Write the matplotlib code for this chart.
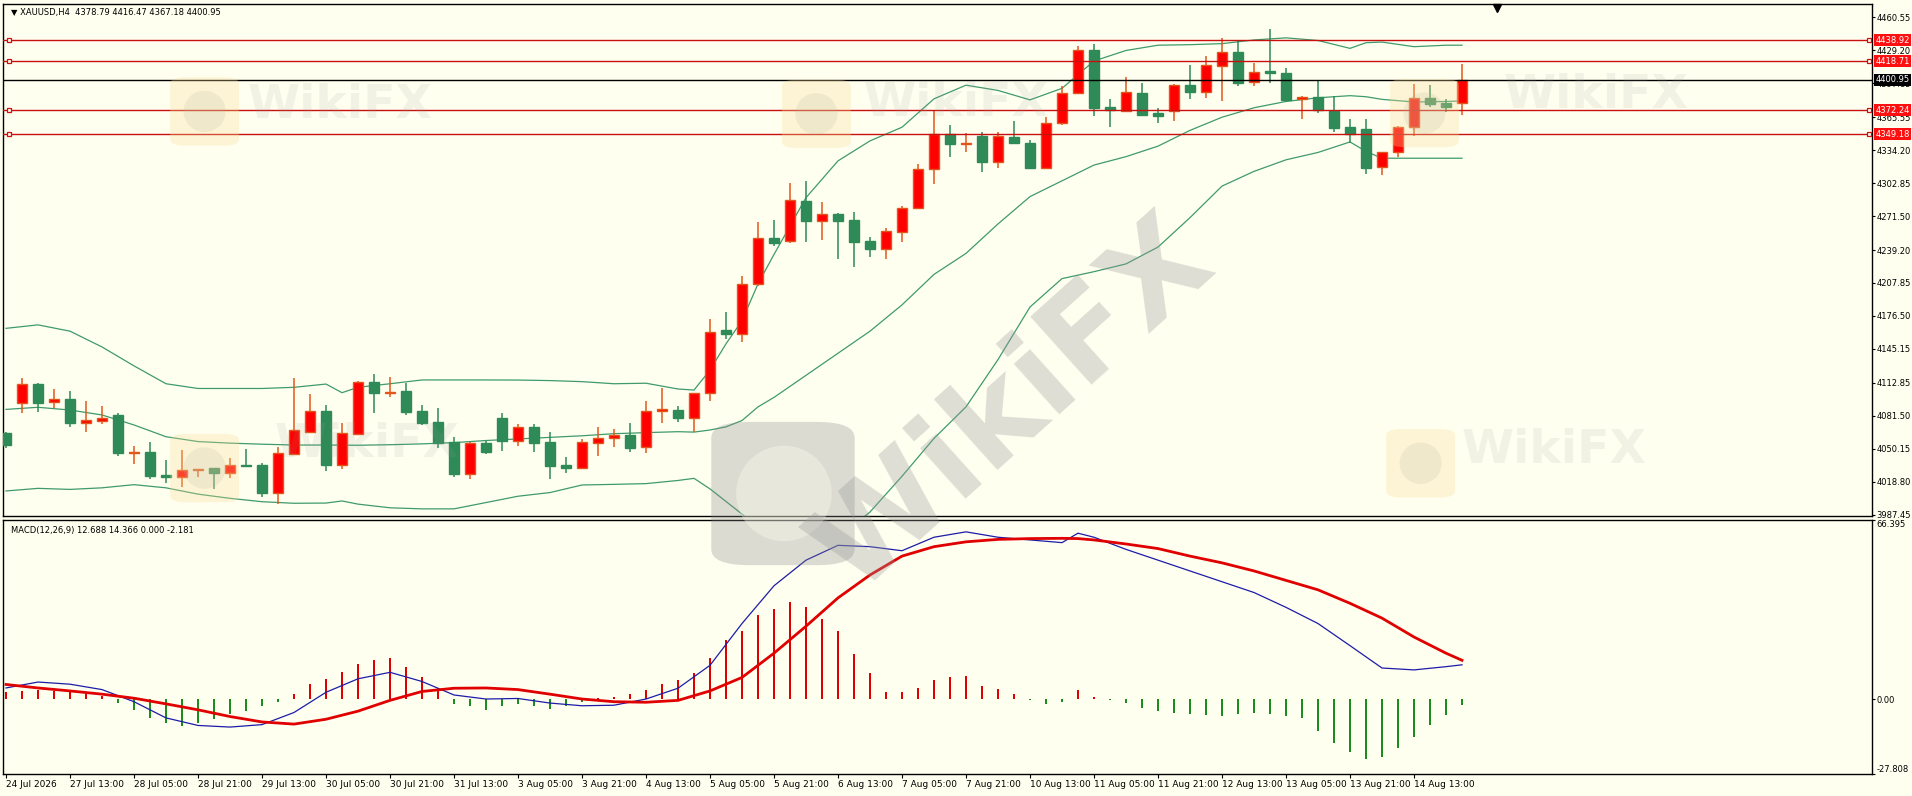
import matplotlib
matplotlib.use("Agg")
import matplotlib.pyplot as plt
import matplotlib.transforms as mtransforms
from matplotlib.patches import FancyBboxPatch, Ellipse
import numpy as np

# H4 bars, oldest first
opens = [4065.4, 4093.4, 4111.7, 4094.3, 4097.5, 4075.0, 4076.9, 4082.3, 4046.5, 4046.8,
         4025.2, 4023.6, 4029.6, 4031.5, 4027.4, 4035.0, 4034.7, 4008.4, 4045.2, 4066.4,
         4086.1, 4035.0, 4064.2, 4113.6, 4103.5, 4105.1, 4086.1, 4075.6, 4056.3, 4026.5,
         4055.9, 4079.4, 4057.9, 4070.9, 4056.3, 4034.7, 4032.2, 4055.3, 4060.1, 4063.2,
         4051.5, 4086.1, 4087.0, 4079.1, 4102.9, 4162.8, 4159.0, 4206.6, 4250.3, 4248.1,
         4285.8, 4267.1, 4273.5, 4267.8, 4247.5, 4240.5, 4256.6, 4278.8, 4316.3, 4349.2,
         4340.0, 4347.6, 4322.6, 4346.4, 4340.7, 4317.5, 4359.7, 4388.9, 4429.4, 4374.9,
         4371.7, 4388.5, 4369.2, 4371.7, 4396.2, 4389.8, 4414.5, 4427.2, 4398.7, 4409.5,
         4407.2, 4382.5, 4384.4, 4371.7, 4355.9, 4354.0, 4317.8, 4332.7, 4356.5, 4383.5,
         4378.7, 4378.79]
highs = [4066.5, 4117.1, 4112.7, 4107.0, 4105.1, 4095.6, 4090.8, 4083.9, 4052.8, 4056.3,
         4039.5, 4049.0, 4031.2, 4031.8, 4041.4, 4049.6, 4036.9, 4052.1, 4117.1, 4101.9,
         4091.5, 4074.3, 4114.9, 4121.3, 4118.1, 4112.4, 4091.5, 4088.6, 4061.6, 4056.3,
         4057.9, 4083.9, 4073.7, 4073.7, 4065.8, 4042.0, 4059.1, 4071.2, 4068.9, 4074.3,
         4095.6, 4107.6, 4090.8, 4103.5, 4173.3, 4179.9, 4214.5, 4265.5, 4267.8, 4302.9,
         4304.8, 4284.9, 4274.1, 4275.0, 4251.9, 4259.8, 4281.1, 4320.7, 4371.7, 4358.1,
         4350.2, 4351.8, 4351.8, 4361.9, 4343.9, 4365.4, 4395.2, 4433.2, 4434.8, 4382.8,
         4403.5, 4398.4, 4374.0, 4396.8, 4415.2, 4423.7, 4440.5, 4438.3, 4417.4, 4449.1,
         4412.6, 4385.7, 4400.9, 4385.7, 4363.5, 4363.5, 4332.9, 4356.8, 4396.8, 4396.2,
         4382.8, 4416.47]
lows = [4050.5, 4084.5, 4085.4, 4089.2, 4071.2, 4066.4, 4073.7, 4043.6, 4035.7, 4021.1,
        4017.9, 4013.5, 4023.0, 4011.6, 4022.0, 4033.1, 4004.0, 3997.6, 4044.2, 4065.5,
        4029.3, 4030.6, 4063.2, 4083.9, 4099.7, 4082.3, 4072.8, 4051.2, 4023.6, 4021.7,
        4045.2, 4048.3, 4053.1, 4047.4, 4021.1, 4027.4, 4031.2, 4043.6, 4052.1, 4047.4,
        4046.4, 4075.0, 4075.9, 4066.4, 4095.9, 4154.2, 4151.4, 4205.3, 4243.3, 4245.5,
        4247.1, 4248.7, 4231.0, 4223.4, 4232.9, 4230.3, 4247.1, 4278.0, 4301.7, 4327.4,
        4332.1, 4313.1, 4317.5, 4339.7, 4316.9, 4317.0, 4358.5, 4388.2, 4366.7, 4356.5,
        4370.8, 4367.5, 4359.7, 4362.2, 4382.8, 4384.1, 4381.3, 4395.2, 4395.5, 4397.7,
        4379.7, 4363.5, 4369.8, 4351.1, 4341.3, 4311.5, 4310.5, 4327.4, 4347.9, 4375.6,
        4370.8, 4367.18]
closes = [4053.7, 4111.7, 4094.0, 4097.5, 4075.0, 4077.5, 4079.4, 4045.8, 4046.9, 4024.6,
          4023.6, 4029.6, 4030.9, 4027.4, 4034.7, 4034.0, 4008.4, 4045.8, 4068.0, 4086.1,
          4035.0, 4064.8, 4113.6, 4103.5, 4104.0, 4085.4, 4075.0, 4055.9, 4026.5, 4055.3,
          4047.4, 4057.9, 4070.5, 4055.9, 4034.1, 4032.2, 4056.3, 4060.1, 4063.6, 4051.2,
          4086.1, 4088.0, 4079.1, 4102.9, 4161.5, 4159.0, 4206.6, 4250.3, 4246.2, 4286.8,
          4267.1, 4273.1, 4267.1, 4247.1, 4240.5, 4257.3, 4278.8, 4316.3, 4349.2, 4339.7,
          4340.8, 4322.6, 4347.6, 4340.7, 4317.5, 4359.7, 4388.2, 4429.4, 4374.6, 4372.4,
          4389.5, 4367.9, 4367.0, 4396.2, 4389.8, 4415.2, 4427.2, 4398.4, 4408.2, 4407.9,
          4381.9, 4384.4, 4372.4, 4355.6, 4349.6, 4317.5, 4332.7, 4356.5, 4384.1, 4377.8,
          4375.6, 4400.95]

# Bollinger bands
bb_bars = [0, 2, 4, 6, 8, 10, 12, 14, 16, 18, 20, 21, 22, 24, 26, 28, 30, 32, 34, 36,
           38, 40, 42, 43, 44, 45, 46, 47, 48, 50, 52, 54, 56, 58, 60, 62, 64, 66, 68, 70,
           72, 74, 76, 78, 80, 82, 84, 85, 86, 88, 90, 91]
bb_upper = [4164.7, 4168, 4162, 4147, 4129, 4112, 4107.5, 4107.5, 4107.5, 4108.6,
            4111.7, 4103.5, 4108.6, 4112, 4115.6, 4115.6, 4115.6, 4115.5, 4115, 4114,
            4112, 4112.5, 4107, 4106, 4125, 4150, 4172, 4207, 4235, 4289,
            4324, 4343, 4356, 4383, 4396, 4391, 4382, 4393, 4419, 4429,
            4434, 4434.5, 4435.5, 4439, 4441, 4438.5, 4431, 4436.4, 4437, 4432.6,
            4434, 4434]
bb_mid = [4087.6, 4089.6, 4087, 4082.3, 4072.8, 4061.6, 4057, 4055.5, 4054.5, 4053.7,
          4053.7, 4053.6, 4053.5, 4054, 4054.8, 4056, 4058, 4059.5, 4061, 4062.5,
          4064.5, 4065.5, 4066.4, 4066, 4068, 4071, 4077, 4090, 4099, 4120,
          4141, 4162, 4187, 4216, 4236, 4264, 4290, 4305, 4320, 4328,
          4338, 4353, 4365.5, 4374.5, 4380.5, 4384, 4386, 4385, 4382.5, 4380,
          4380.5, 4381]
bb_lower = [4010, 4012.5, 4011.5, 4013, 4016, 4013, 4007, 4003, 3999.8, 3998.3,
            3998.5, 4000.5, 3997.5, 3994, 3993, 3993, 3999, 4005, 4008.5, 4015.7,
            4016.3, 4017, 4020, 4022, 4012, 4000, 3988, 3975, 3962, 3955,
            3965, 3990, 4024, 4060, 4090, 4135, 4185, 4212, 4218.6, 4226,
            4242, 4270, 4300, 4314, 4325, 4332, 4342, 4333, 4326.5, 4326.5,
            4326.5, 4326.5]

# MACD(12,26,9)
macd_hist = [2.5, 3.0, 3.5, 3.0, 2.5, 2.0, 1.0, -1.5, -4.0, -7.2,
             -9.0, -9.9, -9.0, -7.5, -5.5, -4.5, -2.7, -1.0, 1.8, 5.4,
             7.6, 9.9, 13.0, 14.4, 15.3, 11.7, 8.1, 4.0, -1.8, -2.7,
             -4.0, -2.7, -1.8, -2.7, -3.6, -2.7, -1.0, 0.5, 0.9, 1.8,
             3.2, 5.4, 7.2, 9.5, 15.3, 22.0, 25.2, 31.1, 33.3, 36.0,
             34.2, 29.7, 25.2, 16.7, 9.5, 2.7, 2.7, 4.0, 7.2, 8.1,
             8.6, 5.0, 3.6, 1.8, -0.5, -1.8, -1.0, 3.2, 0.9, -0.5,
             -1.5, -3.2, -4.5, -5.0, -5.4, -5.9, -6.3, -5.4, -5.0, -5.4,
             -6.3, -7.2, -11.7, -16.2, -19.8, -22.1, -21.6, -18.0, -14.0, -9.5,
             -5.9, -2.181]
macd_bars = [0, 2, 4, 6, 8, 10, 12, 14, 16, 18, 20, 22, 24, 26, 28, 30, 32, 34, 36, 38,
             40, 42, 44, 46, 48, 50, 52, 54, 56, 58, 60, 62, 64, 66, 67, 68, 70, 72, 74, 76,
             78, 80, 82, 84, 86, 88, 90, 91]
macd_main = [4.1, 6.3, 5.5, 3.5, -1.0, -7.0, -9.8, -10.4, -9.5, -5.0,
             2.5, 7.5, 9.9, 6.5, 1.5, 0.0, 0.2, -1.5, -2.5, -2.3,
             0.0, 4.0, 12.5, 28.0, 42.0, 51.5, 57.0, 56.5, 55.0, 60.0,
             62.0, 60.0, 59.0, 58.0, 61.5, 60.0, 55.5, 51.5, 47.5, 43.5,
             39.5, 34.0, 28.0, 19.8, 11.5, 10.8, 12.0, 12.688]
macd_signal = [5.4, 4.1, 3.0, 1.8, 0.3, -1.8, -4.0, -6.5, -8.5, -9.3,
               -7.5, -4.5, -0.5, 2.8, 4.0, 4.1, 3.5, 1.8, 0.0, -1.0,
               -1.2, -0.5, 3.0, 8.0, 17.0, 27.0, 37.5, 46.0, 53.0, 56.5,
               58.3, 59.2, 59.5, 59.6, 59.5, 59.0, 57.5, 55.8, 53.0, 50.5,
               47.5, 44.0, 40.5, 35.5, 30.0, 23.0, 17.0, 14.366]

level_prices = [4438.92, 4418.71, 4372.24, 4349.18]
bid_price = 4400.95
price_ticks = [4460.55, 4429.20, 4397.85, 4365.55, 4334.20, 4302.85, 4271.50, 4239.20,
               4207.85, 4176.50, 4145.15, 4112.85, 4081.50, 4050.15, 4018.80, 3987.45]
time_labels = ["24 Jul 2026", "27 Jul 13:00", "28 Jul 05:00", "28 Jul 21:00", "29 Jul 13:00",
               "30 Jul 05:00", "30 Jul 21:00", "31 Jul 13:00", "3 Aug 05:00", "3 Aug 21:00",
               "4 Aug 13:00", "5 Aug 05:00", "5 Aug 21:00", "6 Aug 13:00", "7 Aug 05:00",
               "7 Aug 21:00", "10 Aug 13:00", "11 Aug 05:00", "11 Aug 21:00", "12 Aug 13:00",
               "13 Aug 05:00", "13 Aug 21:00", "14 Aug 13:00"]

BG = "#FFFFF0"
BULL, BULL_EDGE = "#FF0000", "#E2561C"
BEAR = "#2E8B57"
BAND = "#3F9A6C"
LEVEL = "#C81010"
FS = 6          # numbers and header texts
FS_TIME = 6.5   # time axis

W, H = 1912, 796


def rect(x0, y0, x1, y1):
    return [x0 / W, 1 - y1 / H, (x1 - x0) / W, (y1 - y0) / H]


fig = plt.figure(figsize=(W / 100, H / 100), dpi=100, facecolor=BG)
ax = fig.add_axes(rect(3, 4, 1872, 516), facecolor=BG)
axm = fig.add_axes(rect(3, 520, 1872, 774), facecolor=BG, sharex=ax)

# faint watermarks (logo tile + text), drawn over the panels
wm = dict(color="#9a9a9a", fontweight="bold", ha="center", va="center", zorder=1)
for (lx, ly, tx, ty) in [(0.107, 0.860, 0.178, 0.868), (0.427, 0.857, 0.500, 0.870),
                         (0.745, 0.858, 0.835, 0.880), (0.107, 0.412, 0.192, 0.442),
                         (0.743, 0.418, 0.813, 0.434)]:
    fig.add_artist(FancyBboxPatch((lx - 0.018, ly - 0.043), 0.036, 0.086,
                                  boxstyle="round,pad=0,rounding_size=0.008",
                                  transform=fig.transFigure, fc="#F7DC95", ec="none",
                                  alpha=0.3, zorder=1))
    fig.add_artist(Ellipse((lx, ly), 0.022, 0.052, transform=fig.transFigure,
                           fc="#B8B2A0", ec="none", alpha=0.18, zorder=1))
    fig.text(tx, ty, "WikiFX", fontsize=34, alpha=0.13, **wm)

fig.add_artist(FancyBboxPatch((0.372, 0.29), 0.075, 0.18,
                              boxstyle="round,pad=0,rounding_size=0.02",
                              transform=fig.transFigure, fc="#8a8a8a", ec="none",
                              alpha=0.3, zorder=1))
fig.add_artist(Ellipse((0.41, 0.38), 0.05, 0.12, transform=fig.transFigure,
                       fc=BG, ec="none", alpha=0.35, zorder=1))
fig.text(0.53, 0.49, "WikiFX", fontsize=90, rotation=42, alpha=0.33, **wm)

# candles
o, h, l, c = map(np.array, (opens, highs, lows, closes))
x = np.arange(len(o))
up = c >= o
for mask, face, edge in ((up, BULL, BULL_EDGE), (~up, BEAR, BEAR)):
    ax.vlines(x[mask], l[mask], h[mask], color=edge, lw=1.1, zorder=3)
    ax.bar(x[mask], np.abs(c - o)[mask], bottom=np.minimum(o, c)[mask], width=0.62,
           color=face, edgecolor=edge, lw=1, zorder=4)

ax.plot(bb_bars, bb_upper, color=BAND, lw=0.9, zorder=2)
ax.plot(bb_bars, bb_mid, color=BAND, lw=0.9, zorder=2)
ax.plot(bb_bars, bb_lower, color=BAND, lw=0.9, zorder=2)

trans = mtransforms.blended_transform_factory(ax.transAxes, ax.transData)
for p in level_prices:
    ax.axhline(p, color=LEVEL, lw=1, zorder=5)
    ax.plot([0.003, 0.9985], [p, p], ls="none", marker="s", ms=3.5, mfc=BG, mec=LEVEL,
            mew=0.9, transform=trans, clip_on=False, zorder=6)
    ax.text(1.0018, p, f"{p:.2f}", transform=trans, ha="left", va="center", fontsize=FS,
            color="white", zorder=10, clip_on=False,
            bbox=dict(boxstyle="square,pad=0.18", fc="#FF1010", ec="none"))
ax.axhline(bid_price, color="black", lw=1, zorder=5)
ax.text(1.0018, bid_price, f"{bid_price:.2f}", transform=trans, ha="left", va="center",
        fontsize=FS, color="white", zorder=10, clip_on=False,
        bbox=dict(boxstyle="square,pad=0.18", fc="black", ec="none"))

ax.set_xlim(-0.1875, 116.625)
ax.set_ylim(3986.2, 4473.2)
ax.yaxis.tick_right()
ax.set_yticks(price_ticks)
ax.set_yticklabels([f"{v:.2f}" for v in price_ticks])
ax.tick_params(axis="y", direction="out", length=2, width=0.8, labelsize=FS, pad=1)
ax.tick_params(axis="x", bottom=False, labelbottom=False)

ax.text(0.0045, 0.992, "\u25bc XAUUSD,H4  4378.79 4416.47 4367.18 4400.95",
        transform=ax.transAxes, ha="left", va="top", fontsize=FS, zorder=11)
ax.plot([0.7994], [0.993], marker="v", color="black", ms=6, transform=ax.transAxes,
        clip_on=False, zorder=11)

# MACD panel
hist = np.array(macd_hist)
axm.bar(x, hist, width=0.13, color=np.where(hist >= 0, "#E00000", "#1E8C1E"), zorder=2)
axm.plot(macd_bars, macd_main, color="#1C1CA8", lw=0.9, zorder=3)
axm.plot(macd_bars, macd_signal, color="#E00000", lw=2, zorder=4)
axm.set_ylim(-27.808, 66.395)
axm.yaxis.tick_right()
axm.set_yticks([66.395, 0.0, -27.808])
axm.set_yticklabels(["66.395", "0.00", "-27.808"])
ylabels = axm.get_yticklabels()
ylabels[0].set_va("top")
ylabels[2].set_va("bottom")
axm.tick_params(axis="y", direction="out", length=2, width=0.8, labelsize=FS, pad=1)
axm.set_xticks(x[::4][:len(time_labels)])
axm.set_xticklabels(time_labels, ha="left")
axm.tick_params(axis="x", direction="out", length=3, width=0.8, labelsize=FS_TIME, pad=1.5)
axm.text(0.0045, 0.975, "MACD(12,26,9) 12.688 14.366 0.000 -2.181",
         transform=axm.transAxes, ha="left", va="top", fontsize=FS, zorder=11)

for a in (ax, axm):
    for s in a.spines.values():
        s.set_color("black")
        s.set_linewidth(1)

fig.savefig("out.png", dpi=100, facecolor=BG)
